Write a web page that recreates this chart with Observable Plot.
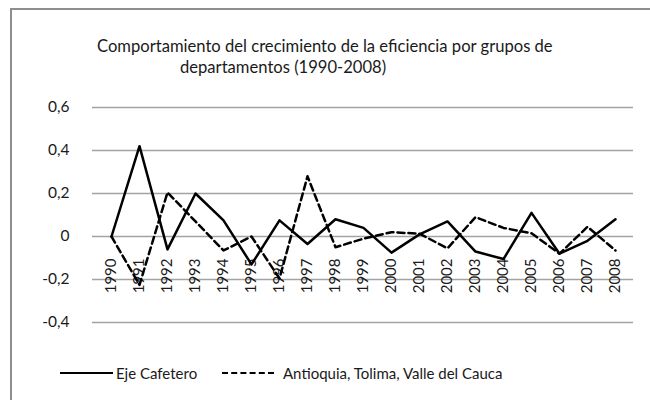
<!DOCTYPE html>
<html>
<head>
<meta charset="utf-8">
<script src="https://cdn.jsdelivr.net/npm/d3@7"></script>
<script src="https://cdn.jsdelivr.net/npm/@observablehq/plot@0.6"></script>
<style>
  html, body { margin: 0; padding: 0; background: #fff; }
  #wrap { position: relative; width: 650px; height: 400px; overflow: hidden; font-family: Lato, "Open Sans", sans-serif; color: #1a1a1a; }
  #frame { position: absolute; left: 10px; top: 8px; width: 700px; height: 500px; border: 2px solid #8e8e8e; box-sizing: border-box; }
  #fig { position: absolute; left: 0; top: -13px; width: 650px; text-align: center; font-family: "Liberation Serif", serif; font-size: 16px; line-height: 16px; }
  .t { position: absolute; font-size: 16.6px; line-height: 20px; white-space: nowrap; }
  #chart { position: absolute; left: 0; top: 0; }
  #legend { position: absolute; left: 0; top: 363px; width: 650px; height: 20px; font-size: 15px; }
  .sw { position: absolute; top: 9px; height: 0; }
  .lt { position: absolute; top: 0; line-height: 20px; white-space: nowrap; }
</style>
</head>
<body>
<div id="wrap">
  <div id="fig">Gráfico 5</div>
  <div id="frame"></div>
  <div class="t" style="left:97px; top:36px;">Comportamiento del crecimiento de la eficiencia por grupos de</div>
  <div class="t" style="left:180px; top:57px;">departamentos (1990-2008)</div>
  <div id="chart"></div>
  <div id="legend">
    <div class="sw" style="left:60px; width:53px; border-top:2.5px solid #000;"></div>
    <div class="lt" style="left:116px;">Eje Cafetero</div>
    <div class="sw" style="left:222px; width:52px; border-top:2.5px dashed #000;"></div>
    <div class="lt" style="left:283px;">Antioquia, Tolima, Valle del Cauca</div>
  </div>
</div>
<script>
const years = [1990,1991,1992,1993,1994,1995,1996,1997,1998,1999,2000,2001,2002,2003,2004,2005,2006,2007,2008];
const ejeCafetero = [0, 0.42, -0.06, 0.20, 0.075, -0.13, 0.075, -0.035, 0.08, 0.04, -0.075, 0.01, 0.07, -0.07, -0.105, 0.11, -0.08, -0.02, 0.08];
const antioquiaTolimaValle = [0, -0.225, 0.205, 0.07, -0.065, 0.0, -0.195, 0.28, -0.05, -0.01, 0.02, 0.013, -0.055, 0.09, 0.04, 0.015, -0.08, 0.045, -0.065];
const yTicks = [-0.4, -0.2, 0, 0.2, 0.4, 0.6];

const fmt = d => d === 0 ? "0" : (d < 0 ? "-" : "") + Math.abs(d).toFixed(1).replace(".", ",");

const chart = Plot.plot({
  width: 650,
  height: 400,
  marginTop: 107,
  marginBottom: 78,
  marginLeft: 92,
  marginRight: 17,
  style: { fontFamily: "Lato, sans-serif", fontSize: "15px", color: "#1a1a1a", background: "transparent" },
  x: { type: "point", domain: years, padding: 0.5, axis: null },
  y: { domain: [-0.4, 0.6], axis: null },
  marks: [
    Plot.ruleY(yTicks, { stroke: "#a3a3a3", strokeWidth: 1.5 }),
    Plot.axisY(yTicks, { tickSize: 0, tickPadding: 23, tickFormat: fmt, fontSize: 15.5 }),
    Plot.text(years, { x: d => d, y: () => 0, text: d => String(d), rotate: -90, textAnchor: "end", dy: 22, fontSize: 15 }),
    Plot.line(years, { x: d => d, y: (d, i) => ejeCafetero[i], stroke: "#000", strokeWidth: 2.5 }),
    Plot.line(years, { x: d => d, y: (d, i) => antioquiaTolimaValle[i], stroke: "#000", strokeWidth: 2.5, strokeDasharray: "7,4" })
  ]
});
document.getElementById("chart").appendChild(chart);
</script>
</body>
</html>
